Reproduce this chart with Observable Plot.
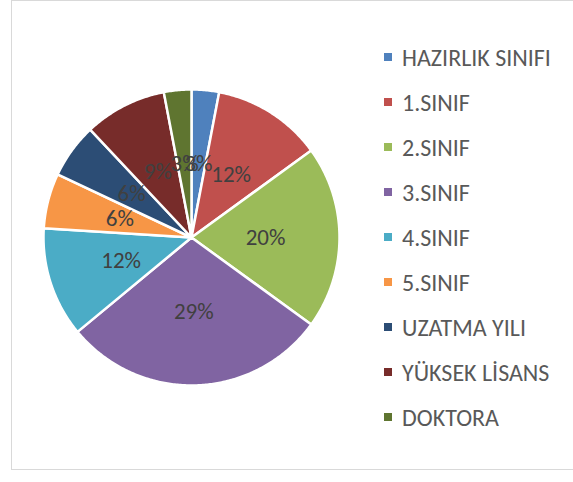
<!DOCTYPE html>
<html>
<head>
<meta charset="utf-8">
<script src="https://cdn.jsdelivr.net/npm/d3@7"></script>
<script src="https://cdn.jsdelivr.net/npm/@observablehq/plot@0.6"></script>
<style>
  html, body { margin: 0; padding: 0; background: #fff; }
  #wrap { position: relative; width: 573px; height: 482px; overflow: hidden; font-family: Carlito, Lato, sans-serif; }
  #frame { position: absolute; left: 11px; top: 0px; width: 600px; height: 470px; border: 1px solid #d9d9d9; box-sizing: border-box; }
  #chart { position: absolute; left: 0; top: 0; }
  #legend { position: absolute; left: 384px; top: 0; }
  .row { position: absolute; left: 0; height: 24px; display: flex; align-items: center; white-space: nowrap; }
  .sw { width: 8px; height: 8px; margin-right: 10px; }
  .lab { font-size: 24px; font-weight: 400; color: #595959; }
</style>
</head>
<body>
<div id="wrap">
  <div id="frame"></div>
  <div id="chart"></div>
  <div id="legend"></div>
</div>
<script>
const categories = ["HAZIRLIK SINIFI", "1.SINIF", "2.SINIF", "3.SINIF", "4.SINIF", "5.SINIF", "UZATMA YILI", "YÜKSEK LİSANS", "DOKTORA"];
const shares = [3, 12, 20, 29, 12, 6, 6, 9, 3];
const colors = ["#4F81BD", "#C0504D", "#9BBB59", "#8064A2", "#4BACC6", "#F79646", "#2C4D75", "#772C2A", "#5F7530"];

const pie = d3.pie().sort(null).value(d => d.value);
const arcs = pie(categories.map((name, i) => ({name, value: shares[i]})));

const pts = [];
for (const a of arcs) {
  const name = a.data.name;
  pts.push({name, x: 0, y: 0});
  const n = Math.max(2, Math.ceil((a.endAngle - a.startAngle) / 0.01));
  for (let k = 0; k <= n; k++) {
    const t = a.startAngle + (a.endAngle - a.startAngle) * k / n;
    pts.push({name, x: Math.sin(t), y: Math.cos(t)});
  }
}
const labels = arcs.map(a => {
  const m = (a.startAngle + a.endAngle) / 2;
  return {name: a.data.name, x: 0.5 * Math.sin(m), y: 0.5 * Math.cos(m), text: a.data.value + "%"};
});

const W = 573, H = 482;
const plot = Plot.plot({
  width: W, height: H,
  marginLeft: 43, marginRight: W - 339, marginTop: 89, marginBottom: H - 385,
  x: {domain: [-1, 1], axis: null},
  y: {domain: [-1, 1], axis: null},
  color: {domain: categories, range: colors},
  style: {background: "transparent", overflow: "visible"},
  marks: [
    Plot.line(pts, {x: "x", y: "y", z: "name", fill: "name", stroke: "white", strokeWidth: 2.5, curve: "linear-closed"}),
    Plot.text(labels, {x: "x", y: "y", text: "text", fill: "#404040", fontSize: 23, fontWeight: 400, fontFamily: "Carlito, Lato, sans-serif"})
  ]
});
document.getElementById("chart").appendChild(plot);

const legend = document.getElementById("legend");
categories.forEach((c, i) => {
  const row = document.createElement("div");
  row.className = "row";
  row.style.top = (57 + 45 * i - 12) + "px";
  row.innerHTML = `<div class="sw" style="background:${colors[i]}"></div><span class="lab">${c}</span>`;
  legend.appendChild(row);
});
</script>
</body>
</html>
